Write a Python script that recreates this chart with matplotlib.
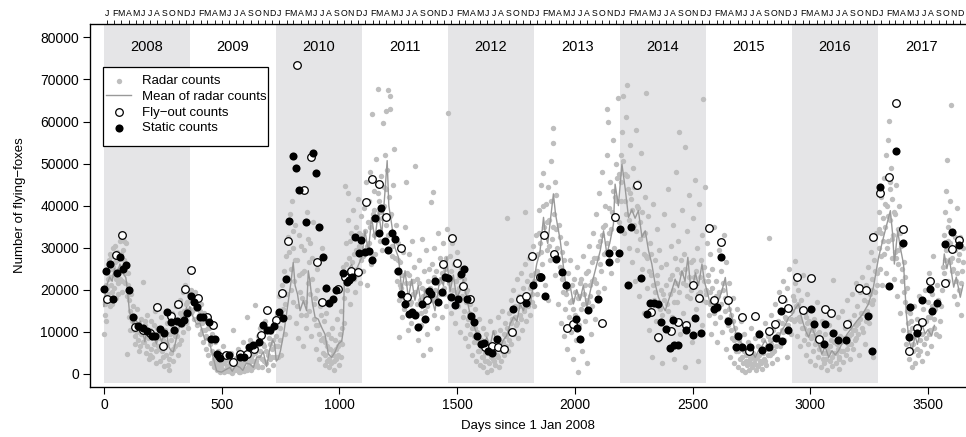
import numpy as np
import matplotlib
matplotlib.use("Agg")
import matplotlib.pyplot as plt
from matplotlib.patches import Rectangle

plt.rcParams['font.family'] = ['Liberation Sans', 'DejaVu Sans']

YEARS = list(range(2008, 2018))
MONTH_LETTERS = ["J", "F", "M", "A", "M", "J", "J", "A", "S", "O", "N", "D"]

# radar counts, (day, count) per year
radar_2008 = [(2,9500),(4,14000),(6,16500),(8,21000),(10,18500),(13,24000),(16,19000),(18,22500),(21,27000),(24,16000),
              (27,28500),(30,21000),(33,25000),(36,19500),(40,30000),(43,23500),(47,26500),(50,18000),(54,29000),(58,24500),
              (62,21500),(66,28000),(70,31500),(74,25500),(78,22000),(82,29500),(86,27000),(90,24000),(95,31000),(99,4700),
              (102,21000),(105,17500),(110,15000),(114,19000),(118,12500),(122,16000),(126,10500),(130,13500),(134,9000),
              (138,12000),(142,15500),(146,8000),(150,11000),(154,6500),(158,13000),(162,9500),(166,21900),(170,7500),
              (174,11500),(178,5000),(182,14000),(186,8500),(190,3500),(194,10500),(198,6000),(202,12500),(206,4000),
              (210,9000),(214,7000),(218,15000),(222,2500),(226,11000),(230,6500),(234,9500),(238,3000),(242,13500),
              (246,5500),(250,8000),(254,1800),(258,10500),(262,4500),(266,12000),(270,7000),(274,2000),(278,900),
              (282,9500),(286,5000),(290,14500),(294,3000),(298,11000),(302,6500),(306,16000),(310,9000),(314,4500),
              (318,12500),(322,17500),(326,8000),(330,13500),(334,19500),(338,10000),(342,15000),(346,21000),(350,12000),
              (354,17000),(358,14500),(362,19000),
              (3,17000),(7,12500),(12,20500),(17,26000),(22,18000),(26,23000),(31,28000),(35,16500),(39,25500),(44,20500),
              (48,30500),(52,22500),(57,27000),(61,19000),(65,25000),(69,22500),(73,28500),(77,19500),(81,24500),(85,31500),
              (89,21500),(94,26000),(98,18500),(103,24000),(107,13500),(112,10500),(133,7000),(141,10000),(149,5500),
              (157,9500),(165,7500),(173,12500),(181,6500),(189,10000),(197,4500),(205,8500),(213,11500),(221,5500),
              (229,8500),(237,6000),(245,10500),(253,4000),(261,7500),(269,9500),(277,3500),(285,8000),(293,6000),
              (301,9000),(309,12000),(317,7000),(325,14500),(333,11500),(341,13000),(349,16500),(357,11000),(364,15500)]
radar_2009 = [(368,17500),(372,20000),(376,15000),(380,18500),(384,13000),(388,19500),(392,16500),(396,11500),(400,18000),
              (404,14000),(408,9500),(412,16500),(416,12000),(420,7500),(424,14500),(428,10500),(432,6000),(436,12500),
              (440,8500),(444,4500),(448,11000),(452,7000),(456,2500),(460,9500),(464,5000),(468,1500),(472,7500),
              (476,3500),(480,800),(484,5500),(488,2000),(492,400),(496,3500),(500,1200),(504,6500),(508,300),(512,2500),
              (516,800),(520,4500),(524,1800),(528,600),(532,3000),(536,1200),(540,5000),(544,200),(549,10400),(552,2200),
              (556,800),(560,3800),(564,1500),(568,6000),(572,500),(576,2800),(580,1000),(584,4200),(588,2000),(592,7500),
              (596,600),(600,3500),(606,13400),(610,1500),(614,5500),(618,2500),(622,8000),(626,1000),(630,4500),
              (634,3000),(641,16300),(645,6500),(650,2000),(655,9000),(660,4000),(665,11000),(670,1500),(675,7000),
              (680,3000),(685,12500),(690,5500),(695,1000),(700,8500),(705,3500),(710,10000),(715,6000),(720,2000),
              (725,11500),(728,4000),
              (370,14500),(378,17000),(386,15500),(394,18500),(402,12500),(410,15000),(418,10500),(426,13000),(434,9000),
              (442,11000),(450,8000),(458,5500),(466,3500),(474,2000),(482,3000),(490,1000),(498,2000),(506,600),
              (514,3500),(522,1000),(530,2000),(538,400),(546,2500),(554,1000),(562,2500),(570,1500),(578,400),
              (586,2500),(594,1200),(602,3000),(608,800),(616,2000),(624,3500),(632,1500),(640,5000),(648,3000),
              (656,1500),(664,5500),(672,3500),(680,6500),(688,2500),(696,4500),(704,7000),(712,4000),(718,8000),
              (726,6500)]
radar_2010 = [(733,9000),(737,14000),(741,6500),(745,18500),(749,11000),(753,4500),(757,21000),(761,15500),(765,24500),
              (769,9500),(773,28000),(777,19000),(781,32500),(785,13500),(789,38000),(793,25000),(797,41000),(801,17000),
              (805,30000),(809,22000),(813,35500),(817,12000),(821,27000),(825,8500),(829,33000),(833,19500),(837,14000),
              (841,24000),(845,6500),(849,29500),(853,17000),(857,11000),(861,38500),(865,21500),(869,26500),(873,15000),
              (877,31000),(881,9000),(885,22500),(889,36000),(893,13000),(897,18000),(901,6000),(905,25000),(909,11500),
              (913,3500),(917,16000),(921,8000),(925,30000),(929,5000),(933,12500),(937,2000),(941,7500),(945,14500),
              (949,3000),(953,9500),(957,1500),(961,6000),(965,2500),(969,11000),(973,4500),(977,1000),(981,8000),
              (985,3500),(989,13000),(993,6500),(997,2000),(1001,9500),(1005,4000),(1009,15000),(1013,7000),(1017,25500),
              (1021,12000),(1024,44600),(1027,31000),(1031,20000),(1035,36500),(1038,43000),(1042,27500),(1046,16500),
              (1050,33500),(1054,23000),(1058,39000),(1062,28500),(1066,19500),(1070,35000),(1074,25000),(1078,41500),
              (1082,30500),(1086,21500),(1090,37500),(1094,27000),
              (739,4000),(747,8000),(755,13000),(763,19500),(771,16500),(779,23000),(787,29000),(795,20000),(803,34000),
              (811,27000),(819,16000),(827,23500),(835,30500),(843,18000),(851,24500),(859,14000),(867,32000),
              (875,19000),(883,27500),(891,16500),(899,11500),(907,20000),(915,9500),(923,14000),(931,8500),(939,4500),
              (947,6500),(955,3500),(963,8500),(971,5500),(979,3000),(987,6000),(995,4500),(1003,7500),(1011,11000),
              (1019,18000),(1029,26000),(1037,22000),(1045,31500),(1053,26500),(1061,22500),(1069,29500),(1077,23500),
              (1085,33500),(1093,30000)]
radar_2011 = [(1098,33000),(1102,24500),(1106,39500),(1110,29500),(1114,45500),(1118,21000),(1122,36000),(1126,31000),
              (1130,48000),(1134,26000),(1137,61700),(1141,38000),(1145,33000),(1149,43500),(1153,28500),(1157,51000),
              (1161,36500),(1164,67700),(1168,41000),(1172,31500),(1176,47000),(1180,37000),(1184,59700),(1188,44500),
              (1192,52000),(1196,62400),(1199,35500),(1203,48500),(1206,67400),(1210,42000),(1213,66000),(1217,63000),
              (1221,38000),(1225,30500),(1229,45000),(1232,53500),(1236,27500),(1240,35500),(1244,22000),(1248,31000),
              (1252,17500),(1255,8800),(1259,26500),(1263,20500),(1267,13500),(1271,29000),(1275,18000),(1279,35000),
              (1282,45500),(1286,24000),(1290,10500),(1294,28500),(1298,16500),(1302,21500),(1306,12000),(1310,31500),
              (1314,19000),(1318,25500),(1321,49400),(1325,14500),(1329,22500),(1333,8000),(1337,27000),(1341,17500),
              (1345,11500),(1349,32000),(1353,20500),(1357,4400),(1361,24500),(1365,15000),(1369,29500),(1373,9500),
              (1377,22000),(1381,18000),(1385,6000),(1389,40900),(1393,26000),(1396,43200),(1400,14000),(1404,30000),
              (1408,20000),(1412,24500),(1416,11000),(1420,33500),(1424,17000),(1428,27500),(1432,22000),(1436,13500),
              (1440,31000),(1444,19000),(1448,25000),(1452,16000),(1456,34500),(1460,62000),
              (1100,28000),(1108,34000),(1116,30500),(1124,41000),(1132,35000),(1140,28500),(1148,39000),(1156,33500),
              (1166,43000),(1174,38500),(1182,29500),(1190,40000),(1198,44000),(1207,33000),(1215,37500),(1223,28000),
              (1231,32500),(1239,24500),(1247,27000),(1257,21000),(1265,23500),(1273,15500),(1281,21500),(1289,18500),
              (1297,23500),(1305,17000),(1313,22000),(1323,19500),(1331,16500),(1339,21500),(1347,14500),(1355,18500),
              (1363,20000),(1371,16000),(1379,25000),(1387,20500),(1395,17500),(1403,23000),(1411,18000),(1419,21500),
              (1427,19000),(1435,24000),(1443,20500),(1451,27500),(1459,22500)]
radar_2012 = [(1464,21500),(1468,28000),(1472,14500),(1476,24500),(1480,31000),(1484,18000),(1488,26000),(1492,12000),
              (1496,22000),(1500,29000),(1504,16000),(1508,20500),(1512,10000),(1516,25000),(1520,18500),(1524,13500),
              (1528,22500),(1532,8500),(1536,17000),(1540,11500),(1544,20000),(1548,6500),(1552,14500),(1556,9500),
              (1560,18000),(1564,4500),(1568,12000),(1572,7500),(1576,15500),(1580,3000),(1584,10000),(1588,5500),
              (1592,13000),(1596,2000),(1600,8000),(1604,4000),(1608,11000),(1612,1500),(1616,6500),(1620,3000),
              (1624,9500),(1628,500),(1632,5000),(1636,2500),(1640,12500),(1644,1000),(1648,7000),(1652,3500),
              (1656,10000),(1660,2000),(1664,8500),(1668,4500),(1672,13500),(1676,1500),(1680,6000),(1684,10500),
              (1688,3000),(1692,15000),(1696,7500),(1700,4500),(1704,12000),(1708,9000),(1711,37000),(1715,5500),
              (1719,14500),(1723,10500),(1727,17500),(1731,7000),(1735,13000),(1739,20000),(1743,9500),(1747,16000),
              (1751,11500),(1755,22500),(1759,8500),(1763,18500),(1767,14000),(1771,24000),(1775,10500),(1779,20500),
              (1783,15500),(1787,26000),(1789,38400),(1793,12500),(1797,22000),(1801,17500),(1805,27500),(1809,14000),
              (1813,23500),(1817,19000),(1821,30500),(1825,16000),
              (1466,18500),(1474,22500),(1482,20000),(1490,26000),(1498,19500),(1506,23000),(1514,17500),(1522,21000),
              (1530,15000),(1538,19500),(1546,13000),(1554,16500),(1562,11000),(1570,9000),(1578,11000),(1586,7500),
              (1594,5500),(1602,6500),(1610,4000),(1618,5000),(1626,3000),(1634,7000),(1642,4000),(1650,5500),
              (1658,3000),(1666,6000),(1674,4000),(1682,7500),(1690,5500),(1698,9500),(1706,6500),(1714,11000),
              (1722,8000),(1730,12000),(1738,10500),(1746,13500),(1754,12000),(1762,16000),(1770,13000),(1778,17500),
              (1786,15000),(1794,18500),(1802,16000),(1810,20500),(1818,17000),(1826,22000)]
radar_2013 = [(1830,24000),(1834,33000),(1838,19000),(1842,28500),(1846,39000),(1850,22500),(1854,31000),(1858,45000),
              (1862,26000),(1864,47700),(1868,35000),(1872,21000),(1876,40500),(1880,29500),(1884,44500),(1888,17500),
              (1892,36500),(1896,27000),(1900,50500),(1904,32000),(1907,55000),(1909,58400),(1912,38000),(1916,23500),
              (1920,42500),(1924,30000),(1928,16500),(1932,35500),(1936,25500),(1940,12000),(1944,29000),(1948,19500),
              (1952,9000),(1956,24000),(1960,15500),(1964,31000),(1968,6000),(1972,20500),(1976,13500),(1980,27000),
              (1984,10000),(1988,17500),(1992,3500),(1996,22500),(2000,14000),(2004,8000),(2008,25500),(2012,18000),
              (2015,300),(2019,11500),(2023,21500),(2027,15500),(2031,5500),(2035,28000),(2039,19000),(2043,12500),
              (2047,24000),(2051,2500),(2055,17000),(2059,30500),(2063,21000),(2067,9500),(2071,26500),(2075,16000),
              (2079,33500),(2083,22500),(2087,13000),(2091,38000),(2095,27500),(2099,19500),(2103,43000),(2107,31500),
              (2111,24500),(2115,48000),(2119,35000),(2123,20500),(2127,40000),(2131,29000),(2135,52000),(2137,63000),
              (2141,59800),(2145,33500),(2149,45500),(2153,24000),(2157,38500),(2161,55500),(2165,30000),(2169,42000),
              (2173,50000),(2177,27000),(2181,46500),(2185,65700),(2189,36000),
              (1832,28000),(1840,24500),(1848,33500),(1856,29000),(1866,40000),(1874,33500),(1882,36000),(1890,30500),
              (1898,41000),(1906,35000),(1914,45500),(1922,34500),(1930,27500),(1938,32500),(1946,22500),(1954,27000),
              (1962,19000),(1970,24000),(1978,17000),(1986,21000),(1994,15500),(2002,19500),(2010,13500),(2018,18500),
              (2026,22500),(2034,16500),(2042,21000),(2050,17500),(2058,24500),(2066,18500),(2074,22000),(2082,27500),
              (2090,21500),(2098,30500),(2106,26000),(2114,33000),(2122,28500),(2130,35500),(2138,31000),(2146,39500),
              (2154,34500),(2162,43500),(2170,37500),(2178,41000),(2186,47500)]
radar_2014 = [(2194,52000),(2198,41000),(2201,57500),(2205,66000),(2208,33500),(2212,47500),(2216,61000),(2219,38000),
              (2222,68800),(2226,44000),(2230,30000),(2234,54500),(2238,41500),(2242,26500),(2246,49000),(2250,35500),
              (2254,22000),(2258,58000),(2262,40000),(2266,29500),(2270,45500),(2274,18500),(2278,36000),(2282,52500),
              (2286,25000),(2290,33000),(2294,14500),(2298,42000),(2301,28000),(2304,66900),(2307,20500),(2311,37500),
              (2315,10500),(2319,31000),(2323,23500),(2327,4000),(2331,40500),(2335,17500),(2339,27000),(2343,12500),
              (2347,34500),(2351,21500),(2355,8000),(2359,29500),(2363,15500),(2367,25500),(2371,2500),(2375,19000),
              (2379,38000),(2383,11000),(2387,26000),(2391,16500),(2395,44000),(2399,6000),(2403,22500),(2407,30500),
              (2411,13500),(2415,35500),(2419,20000),(2423,3500),(2427,27500),(2431,48000),(2435,17000),(2439,31500),
              (2443,57400),(2447,9500),(2451,24000),(2455,39000),(2459,14500),(2463,28500),(2467,1500),(2470,54000),
              (2474,21000),(2478,34000),(2482,12000),(2486,42500),(2490,18000),(2494,26500),(2498,7500),(2502,37000),
              (2506,23000),(2510,46000),(2514,15500),(2518,30000),(2522,3000),(2526,40500),(2530,19500),(2534,27000),
              (2538,11500),(2541,33000),(2544,65400),(2548,22000),(2552,44500),(2555,17000),
              (2196,45500),(2204,50500),(2212,41000),(2220,47000),(2228,36500),(2236,43000),(2244,39000),(2252,44500),
              (2260,34000),(2268,39500),(2276,32000),(2284,38500),(2292,28500),(2300,33500),(2308,27500),(2316,24500),
              (2324,28500),(2332,21000),(2340,19500),(2348,23500),(2356,16500),(2364,20000),(2372,14000),(2380,17500),
              (2388,21000),(2396,15000),(2404,19000),(2412,23500),(2420,17000),(2428,21500),(2436,25000),(2444,19500),
              (2452,27000),(2460,21500),(2468,25000),(2476,18500),(2484,23000),(2492,20000),(2500,27000),(2508,21000),
              (2516,24500),(2524,19000),(2532,23000),(2540,17500),(2548,25500),(2556,20000)]
radar_2015 = [(2560,31000),(2564,23500),(2568,14000),(2572,28500),(2576,19500),(2580,9500),(2584,25000),(2588,16500),
              (2592,35000),(2596,12000),(2600,22000),(2604,7500),(2608,18500),(2612,29500),(2616,13500),(2620,24500),
              (2624,10000),(2628,20000),(2632,33000),(2636,15000),(2640,6000),(2644,26500),(2648,17000),(2652,11500),
              (2656,21500),(2660,4000),(2664,14000),(2668,8500),(2672,18000),(2676,2500),(2680,11000),(2684,5500),
              (2688,15500),(2692,1500),(2696,8000),(2700,3500),(2704,12500),(2708,1000),(2712,6000),(2716,2500),
              (2720,9500),(2724,500),(2728,4500),(2732,2000),(2736,7500),(2740,1000),(2744,3500),(2748,11000),
              (2752,1500),(2756,5000),(2760,2500),(2764,8500),(2768,800),(2772,4000),(2776,6500),(2780,1800),
              (2784,10000),(2788,3000),(2792,5500),(2796,1200),(2800,8000),(2804,3500),(2808,12000),(2812,2000),
              (2816,6000),(2820,9000),(2823,32300),(2827,4500),(2831,14000),(2835,7000),(2839,2500),(2843,10500),
              (2847,5500),(2851,16500),(2855,8500),(2859,3500),(2863,12500),(2867,19500),(2871,6500),(2875,15000),
              (2879,10500),(2883,22000),(2887,8000),(2891,17500),(2895,13000),(2899,4000),(2903,20500),(2907,11500),
              (2911,25000),(2915,15500),(2919,9500),
              (2558,19000),(2566,22000),(2574,16500),(2582,20500),(2590,14500),(2598,18500),(2606,15500),(2614,19500),
              (2622,16500),(2630,21500),(2638,18000),(2646,13000),(2654,15500),(2662,10500),(2670,12500),(2678,8000),
              (2686,9500),(2694,5500),(2702,7000),(2710,4000),(2718,5500),(2726,3000),(2734,4500),(2742,2500),
              (2750,4000),(2758,2000),(2766,3500),(2774,2000),(2782,4500),(2790,2500),(2798,5000),(2806,3000),
              (2814,6500),(2822,4500),(2830,8000),(2838,5000),(2846,8500),(2854,6500),(2862,9500),(2870,7500),
              (2878,12000),(2886,10000),(2894,13500),(2902,10500),(2910,15500),(2918,13000)]
radar_2016 = [(2925,18500),(2929,12500),(2933,21500),(2936,26800),(2940,16000),(2944,9000),(2948,20000),(2952,13500),
              (2956,6500),(2960,17500),(2964,11000),(2968,23500),(2972,8000),(2976,14500),(2980,4500),(2984,12000),
              (2988,19000),(2992,7000),(2996,10500),(3000,3000),(3004,15500),(3008,9000),(3012,5500),(3016,13000),
              (3020,2000),(3024,8000),(3028,17000),(3032,4000),(3036,10000),(3040,6500),(3044,1500),(3048,12500),
              (3052,3500),(3056,7500),(3060,2500),(3064,9500),(3068,5000),(3072,1000),(3076,6500),(3080,11500),
              (3084,3000),(3088,8000),(3092,1800),(3096,22400),(3100,5000),(3104,10000),(3108,2500),(3112,7000),
              (3116,13500),(3120,4000),(3124,1200),(3128,9000),(3132,5500),(3136,15000),(3140,2800),(3144,8500),
              (3148,11000),(3152,4500),(3156,17500),(3160,7000),(3164,12500),(3168,3500),(3172,9500),(3176,19000),
              (3180,6000),(3184,14000),(3188,10500),(3192,21500),(3196,8500),(3200,16000),(3204,12000),(3208,4500),
              (3212,19500),(3216,14500),(3220,23000),(3224,10000),(3228,17500),(3232,7000),(3236,21000),(3240,15000),
              (3244,25500),(3248,12000),(3252,19000),(3256,29000),(3260,16500),(3264,22500),(3268,4000),(3272,27000),
              (3276,19500),(3280,33500),(3284,24000),
              (2924,15000),(2932,17500),(2940,13000),(2948,16500),(2956,12500),(2964,15000),(2972,11000),(2980,13500),
              (2988,9500),(2996,12500),(3004,8500),(3012,10500),(3020,7000),(3028,9500),(3036,6000),(3044,8500),
              (3052,5000),(3060,7000),(3068,3500),(3076,5500),(3084,6500),(3092,4000),(3100,7500),(3108,5000),
              (3116,6000),(3124,3500),(3132,7500),(3140,5500),(3148,8500),(3156,6000),(3164,9000),(3172,7000),
              (3180,10500),(3188,8000),(3196,11500),(3204,9500),(3212,13000),(3220,11000),(3228,14500),(3236,12500),
              (3244,17000),(3252,14000),(3260,20000),(3268,17500),(3276,24500),(3284,21000)]
radar_2017 = [(3290,30000),(3293,38500),(3296,25000),(3299,42000),(3302,33500),(3305,21000),(3308,37000),(3311,46500),
              (3314,28500),(3317,35000),(3320,52000),(3323,24000),(3326,40000),(3329,31500),(3332,55500),(3334,60200),
              (3337,44000),(3340,36500),(3343,49000),(3346,27500),(3349,41500),(3352,33000),(3355,22500),(3358,38000),
              (3361,29000),(3365,45000),(3368,18500),(3371,34500),(3374,26000),(3378,40000),(3382,14500),(3386,30500),
              (3390,22000),(3394,10500),(3398,26500),(3402,17000),(3406,7000),(3410,20500),(3414,12000),(3418,3500),
              (3422,14500),(3426,8500),(3430,1500),(3434,11000),(3438,5500),(3442,16000),(3446,2500),(3450,9500),
              (3454,13000),(3458,4500),(3462,18500),(3466,8000),(3470,11500),(3474,3000),(3478,15500),(3482,7000),
              (3486,20000),(3490,12500),(3494,5000),(3498,17000),(3502,9500),(3506,24000),(3510,13500),(3514,6500),
              (3518,19000),(3522,28000),(3526,11000),(3530,15500),(3540,21000),(3548,9000),(3556,16000),(3562,25500),
              (3566,33000),(3570,38500),(3574,27000),(3577,43500),(3580,50900),(3583,31500),(3586,22000),(3589,36500),
              (3592,26500),(3595,41000),(3597,64000),(3601,24500),(3605,34000),(3609,18500),(3613,29500),(3617,22000),
              (3621,39500),(3625,16500),(3629,27000),(3633,20000),(3637,32500),(3641,14000),(3645,24500),(3649,30000),
              (3292,34500),(3300,28000),(3308,31500),(3316,40500),(3324,30000),(3332,37500),(3340,45500),(3348,32000),
              (3356,38500),(3364,27500),(3372,29500),(3380,33500),(3388,25000),(3396,19500),(3404,23000),(3412,15000),
              (3420,10000),(3428,12500),(3436,7000),(3444,9500),(3452,6000),(3460,11000),(3468,5500),(3476,9500),
              (3484,12500),(3492,8500),(3500,13500),(3508,10500),(3516,16000),(3524,13000),(3532,9500),(3544,17500),
              (3552,12500),(3560,20000),(3568,24000),(3576,29500),(3584,35000),(3592,31000),(3600,27500),(3608,25000),
              (3616,32500),(3624,24000),(3632,28500),(3640,21500),(3648,26500)]

# running mean of radar counts (None = gap in the line)
mean_days = [0,8,15,25,35,45,55,68,80,93,100,108,116,125,135,145,155,167,174,182,190,200,210,224,232,245,255,266,275,
             285,295,309,323,337,351,358,365,372,380,394,408,422,429,440,450,464,479,490,500,515,535,545,560,578,590,
             605,620,635,649,663,677,691,705,717,725,732,740,750,765,780,795,804,812,822,833,847,861,868,875,885,897,
             910,925,939,953,967,981,996,1010,1016,1021,1035,1052,1065,1078,1095,1109,1123,1137,1151,1166,1180,1194,
             1203,1210,1222,1236,1251,1265,1279,1293,1307,1321,1335,1350,1364,1378,1392,1406,1420,1428,1442,1456,
             1470,1484,1498,1513,1527,1541,1555,1569,1584,1598,1612,1626,1640,1654,1668,1682,1696,1710,1725,1740,
             1754,1768,1782,1796,1810,1824,1838,1852,1867,1875,1885,1895,1909,1918,1938,1952,1966,1980,1994,2008,
             2022,2036,2051,2065,2079,2093,2108,2122,2136,2150,2164,2171,2185,2200,2214,2228,2242,2256,2270,2285,
             2299,2313,2327,2341,2355,2369,2384,2398,2412,2426,2440,2455,2468,2480,2490,2500,2512,2525,2540,2550,
             2561,2575,2590,2605,2625,2639,2650,2660,2674,2688,2705,2720,2731,2745,2766,2780,2794,2808,2822,2836,
             2850,2865,2880,2893,2908,2922,2936,2950,2960,2971,2982,2993,3007,3021,3035,3049,3063,3078,3092,3106,
             3120,3134,3156,3177,3198,3220,3247,3268,3290,3311,3325,3340,3350,3357,3371,3384,3396,3408,3419,3432,
             3445,3455,3474,3488,3500,3515,3527,3546,3565,3569,3580,3590,3609,3620,3637,3648]
mean_vals = [16000,20000,21500,23000,22000,25000,23500,26100,24000,22900,20000,15000,13000,11800,13000,11500,12500,9400,
             7600,10500,9000,10000,8800,7100,10000,7600,9500,10000,6500,5500,5200,8700,11800,13400,15800,14500,16000,
             14400,13400,11800,12000,9400,8000,8500,7100,3900,700,500,400,900,1500,600,2000,1500,800,2500,2300,1500,
             4000,3900,5200,1700,6000,8000,7200,3000,3500,5500,10000,16000,22000,26500,21000,19000,15000,17400,15000,
             24500,22000,17000,13400,13000,11000,9400,4700,3900,5100,7100,7800,10000,22100,24500,26000,23500,25500,
             27700,34000,29000,37200,32000,38800,33000,43500,50700,40000,35600,30000,27700,19800,24500,18000,22500,
             17500,21000,15500,20000,16500,18200,15000,20000,22900,21000,27700,19500,23500,18000,19800,22400,17900,
             14200,11800,9400,7100,6500,8700,6500,10200,7500,6000,8000,9000,11800,13500,12500,16600,15000,19000,16000,
             21400,26100,29000,37200,33000,31000,36000,42800,38000,31700,25300,19500,21000,16600,20000,17500,21000,
             15800,19500,22900,26000,29300,34000,28500,31500,35600,45100,40000,49900,44000,37200,39000,37000,38800,
             32500,34000,29300,26100,21400,18200,16500,15000,17500,19800,22500,20500,24500,22000,27700,21500,20500,
             24000,21000,26100,22000,19800,16600,17500,16600,19800,22900,17500,15000,11800,8700,7500,6000,4700,6000,
             3900,5500,6500,7900,6500,7500,8000,8700,10500,11500,13400,14000,15500,16600,14000,11800,10000,8700,11000,
             9000,7100,4700,6500,3900,5500,4500,5500,7100,9400,11000,12600,14000,16600,20600,27700,32500,35500,38800,
             33000,26100,34000,29500,26100,14200,7900,5500,9000,7000,11800,9500,10500,9000,11500,None,26000,28500,
             25000,27500,20600,23000,18200,21000]

# fly-out counts
flyout_days = [14,50,78,132,167,195,224,252,283,316,344,371,401,436,464,490,518,547,580,609,637,666,691,731,756,784,
               819,848,878,903,928,995,1023,1051,1079,1113,1140,1170,1198,1260,1289,1373,1439,1478,1499,1527,1555,
               1619,1647,1675,1701,1732,1768,1793,1816,1850,1870,1913,1967,1994,2116,2171,2263,2324,2353,2409,2438,
               2472,2500,2528,2571,2591,2620,2650,2712,2738,2766,2823,2851,2879,2906,2942,2970,3005,3035,3061,3089,
               3154,3208,3236,3265,3297,3334,3362,3392,3418,3453,3474,3510,3573,3601,3630]
flyout_vals = [17900,28200,32900,11200,10400,9800,15800,6700,13700,16700,20100,24700,18000,13400,11600,4200,4400,2900,
               4700,4700,6000,9200,15200,12800,19100,31600,73500,43800,51500,26500,17100,20200,23100,24500,24200,40800,
               46300,45100,37200,29800,18300,17500,26000,32300,26400,20900,17900,6400,6700,6400,5800,9900,17900,18600,
               28100,23100,33000,28600,11000,11800,12100,37200,44900,14800,8700,10200,12300,11700,21000,18000,34600,
               17500,31400,17500,13400,5500,13700,10200,11800,17800,15600,22900,15200,22700,8300,15300,14500,11800,
               20300,19900,32500,42900,46900,64400,34400,5500,11000,12400,22100,21700,29700,31800]

# static counts
static_days = [1,8,25,40,54,68,82,96,108,122,146,164,181,203,217,238,255,269,285,297,312,326,340,354,368,382,397,408,
               422,446,453,472,479,493,532,578,595,617,634,657,677,691,705,722,745,762,773,787,802,816,830,858,887,901,
               915,929,943,957,972,986,1014,1031,1042,1054,1068,1082,1093,1110,1125,1137,1151,1167,1178,1193,1208,1222,
               1238,1249,1263,1279,1295,1307,1321,1334,1350,1365,1380,1389,1406,1421,1435,1449,1463,1474,1490,1504,
               1518,1531,1541,1558,1572,1586,1601,1615,1633,1647,1671,1736,1793,1821,1855,1873,1921,1946,1963,2004,
               2008,2023,2054,2099,2144,2147,2188,2190,2224,2238,2282,2308,2321,2338,2355,2364,2387,2404,2418,2421,
               2438,2474,2503,2511,2534,2593,2602,2622,2650,2684,2693,2712,2743,2783,2795,2826,2854,2876,2879,2905,
               3005,3014,3059,3064,3095,3116,3150,3243,3262,3297,3334,3362,3392,3418,3422,3453,3474,3510,3517,3538,
               3573,3600,3630]
static_vals = [20200,24500,26000,17700,24000,27700,25000,25900,19900,13400,11400,11000,10200,9000,9000,10600,9800,
               14800,12400,10500,12600,12000,12800,14400,18600,17000,15800,13600,13400,12400,8200,8200,4800,3700,4400,
               3900,4000,6400,6800,7600,11600,10400,10400,11300,14800,13200,22500,36400,51800,49000,43600,36200,52400,
               47700,34800,27700,20500,16900,17900,19900,23900,21900,22300,22900,32500,28800,31700,29000,29300,27100,
               37000,33400,39400,31600,29500,33400,32100,24500,18900,16500,14100,14800,14000,11200,16600,13100,19800,
               19000,22100,17000,19400,22900,22700,18300,16300,17900,23700,24900,17900,13700,12300,9100,7100,7200,5500,
               4900,8200,15500,16900,21100,23100,18600,27300,24300,21100,13000,11000,8200,15200,17900,26500,28700,
               28700,34400,21000,34800,22800,14300,16900,16800,16600,12300,10600,6100,12800,6800,6800,10400,9300,13300,
               9800,15500,15800,27800,12500,6400,9000,6300,6400,9500,5600,6300,8500,14900,7700,10500,15300,11800,7100,
               11800,9700,8100,8100,13800,5500,44500,20900,53100,31000,8800,15900,9800,17500,20200,14900,16800,30900,
               33700,30600]


def year_start(year):
    return (np.datetime64(f"{year}-01-01") - np.datetime64("2008-01-01")).astype(int)


def main():
    radar = np.array(radar_2008 + radar_2009 + radar_2010 + radar_2011 + radar_2012 +
                     radar_2013 + radar_2014 + radar_2015 + radar_2016 + radar_2017, dtype=float)
    m_vals = np.array([np.nan if v is None else v for v in mean_vals], dtype=float)

    W, H = 966, 437
    fig = plt.figure(figsize=(W / 100, H / 100), dpi=100)
    ax = fig.add_axes([90 / W, 1 - 387 / H, 875 / W, 363 / H])
    xmin, xmax = -59, 3657
    ymin, ymax = -3150, 83200

    # shaded alternate years + year labels
    for i, yr in enumerate(YEARS):
        x0, x1 = year_start(yr), year_start(yr + 1)
        if i % 2 == 0:
            ax.fill_between([x0, x1], -2200, ymax, color='#e5e5e7', lw=0, zorder=0)
        ax.text((x0 + x1) / 2, 77700, str(yr), ha='center', va='center', fontsize=10.5, zorder=1)

    ax.scatter(radar[:, 0], radar[:, 1], s=15, color='#bebebe', lw=0, zorder=2, label='Radar counts')
    ax.plot(mean_days, m_vals, color='#999999', lw=1.0, zorder=3, label='Mean of radar counts')
    ax.scatter(flyout_days, flyout_vals, s=30, facecolor='white', edgecolor='black', lw=0.9, zorder=4,
               label='Fly\u2212out counts')
    ax.scatter(static_days, static_vals, s=34, color='black', lw=0, zorder=5, label='Static counts')

    ax.set_xlim(xmin, xmax)
    ax.set_ylim(ymin, ymax)
    ax.set_xticks(np.arange(0, 3501, 500))
    ax.set_yticks(np.arange(0, 80001, 10000))
    ax.tick_params(direction='out', length=5, width=0.8, labelsize=10, pad=3)
    ax.spines['right'].set_visible(False)
    for s in ['left', 'bottom', 'top']:
        ax.spines[s].set_linewidth(0.9)
    ax.set_xlabel("Days since 1 Jan 2008", fontsize=9.5, labelpad=6)
    ax.set_ylabel("Number of flying\u2212foxes", fontsize=9.5, labelpad=10)

    # month letters on top
    top = ax.twiny()
    top.set_xlim(xmin, xmax)
    mid_month = []
    letters = []
    for yr in YEARS:
        for mo in range(12):
            mid_month.append((np.datetime64(f"{yr}-{mo + 1:02d}-15") - np.datetime64("2008-01-01")).astype(int))
            letters.append(MONTH_LETTERS[mo])
    top.set_xticks(mid_month)
    top.set_xticklabels(letters)
    top.tick_params(axis='x', direction='out', length=3, width=0.6, labelsize=6.3, pad=1)
    top.spines['right'].set_visible(False)

    # legend: box drawn by hand so the padding matches
    box = Rectangle((103 / W, 1 - 146 / H), 165 / W, 79 / H, transform=fig.transFigure,
                    facecolor='white', edgecolor='black', lw=0.9, zorder=9, clip_on=False)
    ax.add_patch(box)
    leg = ax.legend(loc='upper left', bbox_to_anchor=(106 / W, 1 - 75 / H), bbox_transform=fig.transFigure,
                    fontsize=9.5, frameon=False, borderaxespad=0, borderpad=0,
                    labelspacing=0.26, handlelength=1.9, handletextpad=0.85, scatterpoints=1)
    leg.set_zorder(10)

    fig.savefig("out.png", dpi=100)


if __name__ == "__main__":
    main()
